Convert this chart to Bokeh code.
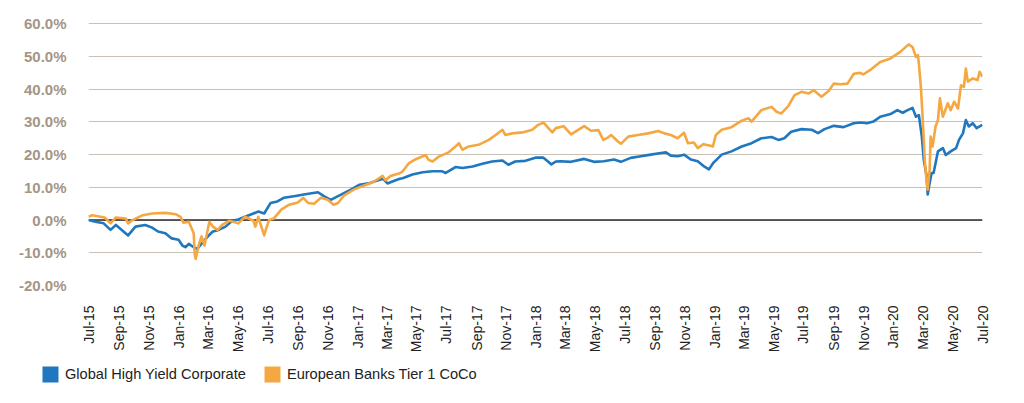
import pandas as pd
from bokeh.plotting import figure
from bokeh.layouts import column, row
from bokeh.models import (FixedTicker, DatetimeTickFormatter, PrintfTickFormatter,
                          Span, Legend, LegendItem, Range1d)
from bokeh.embed import file_html
from bokeh.resources import INLINE

# ---------------- data (cumulative return, %) ----------------
hy_dates = [
    "2015-07-01", "2015-07-15", "2015-08-01", "2015-08-15", "2015-08-26", "2015-09-20",
    "2015-10-05", "2015-10-25", "2015-11-08", "2015-11-20", "2015-12-05", "2015-12-18",
    "2016-01-01", "2016-01-09", "2016-01-15", "2016-01-22", "2016-02-01", "2016-02-08",
    "2016-02-17", "2016-03-01", "2016-03-11", "2016-03-23", "2016-04-06", "2016-04-20",
    "2016-05-02", "2016-05-16", "2016-06-02", "2016-06-12", "2016-06-24", "2016-07-07",
    "2016-07-21", "2016-08-03", "2016-08-24", "2016-09-13", "2016-10-12", "2016-10-24",
    "2016-11-07", "2016-11-28", "2016-12-18", "2017-01-05", "2017-01-26", "2017-02-15",
    "2017-02-22", "2017-03-03", "2017-03-13", "2017-03-28", "2017-04-03", "2017-04-23",
    "2017-05-14", "2017-06-03", "2017-06-23", "2017-06-30", "2017-07-20", "2017-08-03",
    "2017-08-24", "2017-09-13", "2017-10-03", "2017-10-24", "2017-11-05", "2017-11-19",
    "2017-12-10", "2018-01-01", "2018-01-15", "2018-01-25", "2018-02-01", "2018-02-10",
    "2018-02-20", "2018-03-13", "2018-04-09", "2018-04-29", "2018-05-19", "2018-06-09",
    "2018-06-23", "2018-07-13", "2018-08-03", "2018-08-23", "2018-09-13", "2018-09-23",
    "2018-10-03", "2018-10-17", "2018-10-30", "2018-11-13", "2018-11-27", "2018-12-09",
    "2018-12-20", "2018-12-29", "2019-01-15", "2019-02-04", "2019-02-25", "2019-03-17",
    "2019-04-06", "2019-04-27", "2019-05-11", "2019-05-23", "2019-06-06", "2019-06-27",
    "2019-07-18", "2019-07-31", "2019-08-13", "2019-09-01", "2019-09-21", "2019-10-12",
    "2019-10-25", "2019-11-08", "2019-11-21", "2019-12-05", "2019-12-26", "2020-01-09",
    "2020-01-20", "2020-01-30", "2020-02-09", "2020-02-16", "2020-02-22", "2020-02-28",
    "2020-03-03", "2020-03-09", "2020-03-11", "2020-03-15", "2020-03-19", "2020-03-23",
    "2020-04-01", "2020-04-11", "2020-04-17", "2020-04-27", "2020-05-08", "2020-05-14",
    "2020-05-22", "2020-05-28", "2020-06-03", "2020-06-11", "2020-06-19", "2020-07-01",
]
hy_values = [
    0.0, -0.5, -1.0, -3.0, -1.5, -4.7,
    -2.0, -1.5, -2.3, -3.5, -4.0, -5.6,
    -6.0, -7.8, -8.3, -7.3, -8.3, -8.8,
    -7.3, -5.0, -3.5, -3.0, -2.0, -0.2,
    0.2, 1.0, 2.0, 2.6, 2.0, 5.2,
    5.7, 6.8, 7.3, 7.8, 8.5, 7.3,
    6.2, 7.8, 9.3, 10.8, 11.3, 12.3,
    12.6, 11.2, 11.8, 12.6, 12.8, 13.9,
    14.6, 14.9, 14.9, 14.4, 16.2, 15.9,
    16.4, 17.2, 17.9, 18.2, 16.9, 17.9,
    18.1, 19.1, 19.1, 17.9, 17.0, 17.9,
    18.0, 17.8, 18.7, 17.8, 18.0, 18.5,
    17.8, 19.0, 19.5, 20.0, 20.5, 20.7,
    19.7, 19.5, 20.0, 18.5, 18.0, 16.5,
    15.5, 17.5, 20.0, 21.0, 22.5, 23.5,
    25.0, 25.4, 24.5, 25.0, 27.0, 27.8,
    27.6, 26.6, 27.8, 28.8, 28.4, 29.6,
    29.8, 29.6, 30.1, 31.6, 32.4, 33.6,
    32.8, 33.6, 34.3, 31.6, 32.1, 25.5,
    18.4, 13.3, 7.8, 11.3, 14.4, 14.4,
    21.0, 22.0, 19.9, 21.0, 22.0, 24.5,
    26.5, 30.6, 28.6, 29.6, 28.1, 29.1,
]

coco_dates = [
    "2015-07-01", "2015-07-09", "2015-08-03", "2015-08-15", "2015-08-26", "2015-09-15",
    "2015-09-20", "2015-09-29", "2015-10-20", "2015-11-08", "2015-12-05", "2015-12-26",
    "2016-01-05", "2016-01-11", "2016-01-22", "2016-02-01", "2016-02-03", "2016-02-05",
    "2016-02-12", "2016-02-17", "2016-02-23", "2016-03-04", "2016-03-11", "2016-03-21",
    "2016-03-30", "2016-04-14", "2016-05-02", "2016-05-16", "2016-06-02", "2016-06-06",
    "2016-06-12", "2016-06-24", "2016-06-28", "2016-07-04", "2016-07-14", "2016-07-29",
    "2016-08-14", "2016-09-01", "2016-09-12", "2016-09-22", "2016-10-04", "2016-10-18",
    "2016-11-01", "2016-11-13", "2016-11-22", "2016-12-04", "2016-12-24", "2017-01-13",
    "2017-02-03", "2017-02-21", "2017-02-27", "2017-03-09", "2017-03-28", "2017-04-03",
    "2017-04-16", "2017-04-30", "2017-05-20", "2017-05-26", "2017-06-03", "2017-06-16",
    "2017-07-06", "2017-07-20", "2017-07-27", "2017-08-03", "2017-08-16", "2017-09-05",
    "2017-09-26", "2017-10-10", "2017-10-24", "2017-10-30", "2017-11-13", "2017-12-04",
    "2017-12-24", "2018-01-05", "2018-01-16", "2018-01-26", "2018-02-03", "2018-02-10",
    "2018-02-26", "2018-03-13", "2018-03-27", "2018-04-09", "2018-04-23", "2018-05-08",
    "2018-05-18", "2018-05-28", "2018-06-03", "2018-06-17", "2018-06-23", "2018-07-08",
    "2018-07-28", "2018-08-18", "2018-09-07", "2018-09-20", "2018-10-03", "2018-10-17",
    "2018-10-30", "2018-11-07", "2018-11-19", "2018-11-27", "2018-12-09", "2018-12-23",
    "2018-12-28", "2019-01-03", "2019-01-15", "2019-02-04", "2019-02-25", "2019-03-11",
    "2019-03-17", "2019-04-06", "2019-04-27", "2019-05-07", "2019-05-17", "2019-05-31",
    "2019-06-13", "2019-06-27", "2019-07-12", "2019-07-22", "2019-08-07", "2019-08-22",
    "2019-09-01", "2019-09-15", "2019-09-29", "2019-10-12", "2019-10-25", "2019-10-31",
    "2019-11-14", "2019-12-05", "2019-12-26", "2020-01-15", "2020-02-01", "2020-02-09",
    "2020-02-16", "2020-02-20", "2020-02-22", "2020-02-26", "2020-03-01", "2020-03-05",
    "2020-03-09", "2020-03-11", "2020-03-15", "2020-03-17", "2020-03-21", "2020-03-27",
    "2020-04-01", "2020-04-05", "2020-04-11", "2020-04-21", "2020-04-27", "2020-05-04",
    "2020-05-12", "2020-05-18", "2020-05-24", "2020-05-28", "2020-06-01", "2020-06-11",
    "2020-06-21", "2020-06-25", "2020-07-01",
]
coco_values = [
    1.0, 1.5, 0.8, -1.0, 0.8, 0.5,
    -1.0, 0.0, 1.5, 2.0, 2.2, 1.8,
    1.0, -0.8, -0.5, -4.0, -10.3, -11.8,
    -7.3, -5.0, -7.8, -0.5, -2.0, -3.0,
    -1.5, -0.2, -1.0, 1.0, -0.2, -2.0,
    1.0, -4.7, -2.6, 0.0, 0.5, 3.2,
    4.7, 5.4, 6.8, 5.2, 5.0, 6.8,
    6.2, 4.7, 5.2, 7.5, 9.3, 10.5,
    11.7, 13.5, 12.2, 13.5, 14.3, 14.9,
    17.4, 18.6, 19.9, 18.4, 17.9, 19.4,
    20.7, 22.5, 23.5, 21.5, 22.5, 23.0,
    24.5, 26.0, 27.6, 26.0, 26.5, 26.8,
    27.6, 29.1, 29.8, 28.1, 26.8, 28.1,
    28.7, 26.2, 27.5, 28.7, 27.3, 27.5,
    24.5, 25.3, 26.0, 24.0, 23.3, 25.5,
    26.0, 26.5, 27.2, 26.5, 26.0, 25.0,
    26.7, 23.5, 23.7, 22.0, 23.2, 22.7,
    22.5, 26.0, 27.6, 28.4, 30.4, 31.1,
    30.1, 33.6, 34.6, 33.1, 32.6, 34.8,
    38.2, 39.2, 38.7, 39.7, 37.7, 39.5,
    41.7, 41.5, 41.7, 44.7, 45.0, 44.5,
    45.8, 48.3, 49.4, 51.4, 53.7, 52.9,
    49.9, 50.4, 47.8, 40.7, 30.6, 18.4,
    11.3, 9.3, 15.4, 25.5, 22.5, 28.6,
    30.6, 37.2, 31.6, 35.7, 33.6, 36.2,
    34.1, 41.2, 40.7, 46.3, 42.3, 43.3,
    42.8, 45.3, 43.8,
]

series_names = ["Global High Yield Corporate", "European Banks Tier 1 CoCo"]
y_ticks = [-20, -10, 0, 10, 20, 30, 40, 50, 60]
x_tick_dates = [d.strftime("%Y-%m-%d") for d in pd.date_range("2015-07-01", "2020-07-01", freq="2MS")]

BLUE = "#1f77bf"
ORANGE = "#f5a741"
W = 1016

# ---------------- main figure ----------------
p = figure(width=W, height=355, x_axis_type="datetime",
           output_backend="svg", toolbar_location=None,
           min_border_left=88, min_border_right=34,
           min_border_top=20, min_border_bottom=70,
           x_range=Range1d(pd.Timestamp("2015-07-01"), pd.Timestamp("2020-07-01")),
           y_range=Range1d(-20, 61))
p.outline_line_color = None
p.background_fill_color = "white"
p.border_fill_color = "white"

p.xgrid.grid_line_color = None
p.ygrid.ticker = FixedTicker(ticks=y_ticks)
p.ygrid.grid_line_color = "#c9c0b6"
p.ygrid.grid_line_width = 1.2

zero = Span(location=0, dimension="width", line_color="#2b2b2b", line_width=1.5, level="underlay")
p.add_layout(zero)

hx = pd.to_datetime(hy_dates)
cx = pd.to_datetime(coco_dates)
p.line(hx, hy_values, line_color=BLUE, line_width=2.6, line_join="round")
p.line(cx, coco_values, line_color=ORANGE, line_width=2.6, line_join="round")

p.yaxis.ticker = FixedTicker(ticks=y_ticks)
p.yaxis.formatter = PrintfTickFormatter(format="%.1f%%")
p.yaxis.axis_line_color = None
p.yaxis.major_tick_line_color = None
p.yaxis.minor_tick_line_color = None
p.yaxis.major_label_standoff = 16
p.yaxis.major_label_text_font = "Liberation Sans"
p.yaxis.major_label_text_font_style = "bold"
p.yaxis.major_label_text_font_size = "15px"
p.yaxis.major_label_text_color = "#a59584"

x_ticks_ms = [int(t.value // 10**6) for t in pd.to_datetime(x_tick_dates)]
p.xaxis.ticker = FixedTicker(ticks=x_ticks_ms)
fmt = "%b-%y"
p.xaxis.formatter = DatetimeTickFormatter(months=fmt, days=fmt, years=fmt, hours=fmt,
                                          minutes=fmt, seconds=fmt, milliseconds=fmt,
                                          microseconds=fmt, hourmin=fmt, minsec=fmt)
p.xaxis.major_label_orientation = 3.14159265 / 2
p.xaxis.axis_line_color = None
p.xaxis.major_tick_line_color = None
p.xaxis.minor_tick_line_color = None
p.xaxis.major_label_standoff = 14
p.xaxis.major_label_text_font = "Liberation Sans"
p.xaxis.major_label_text_font_size = "14px"
p.xaxis.major_label_text_color = "#222222"

# ---------------- legend strip ----------------
lg = figure(width=W, height=40, output_backend="svg", toolbar_location=None,
            x_axis_location=None, y_axis_location=None,
            min_border_left=0, min_border_right=0, min_border_top=0, min_border_bottom=0,
            x_range=Range1d(0, 1), y_range=Range1d(0, 1))
lg.outline_line_color = None
lg.grid.grid_line_color = None
# one off-range square each, so the legend has a row to draw its swatch from
rb = lg.quad(left=[5], right=[6], top=[6], bottom=[5], fill_color=BLUE, line_color=None)
ro = lg.quad(left=[5], right=[6], top=[6], bottom=[5], fill_color=ORANGE, line_color=None)
legend = Legend(items=[LegendItem(label=series_names[0], renderers=[rb]),
                       LegendItem(label=series_names[1], renderers=[ro])],
                orientation="horizontal", location=(40, 11),
                glyph_width=20, glyph_height=20, label_height=20,
                label_standoff=5, spacing=16, padding=0, margin=0,
                border_line_color=None, background_fill_alpha=0,
                label_text_font="Liberation Sans", label_text_font_size="14.6px",
                label_text_color="#222222")
lg.add_layout(legend)

layout = column(p, row(lg), spacing=0)
open("out.html", "w").write(file_html(layout, INLINE))
